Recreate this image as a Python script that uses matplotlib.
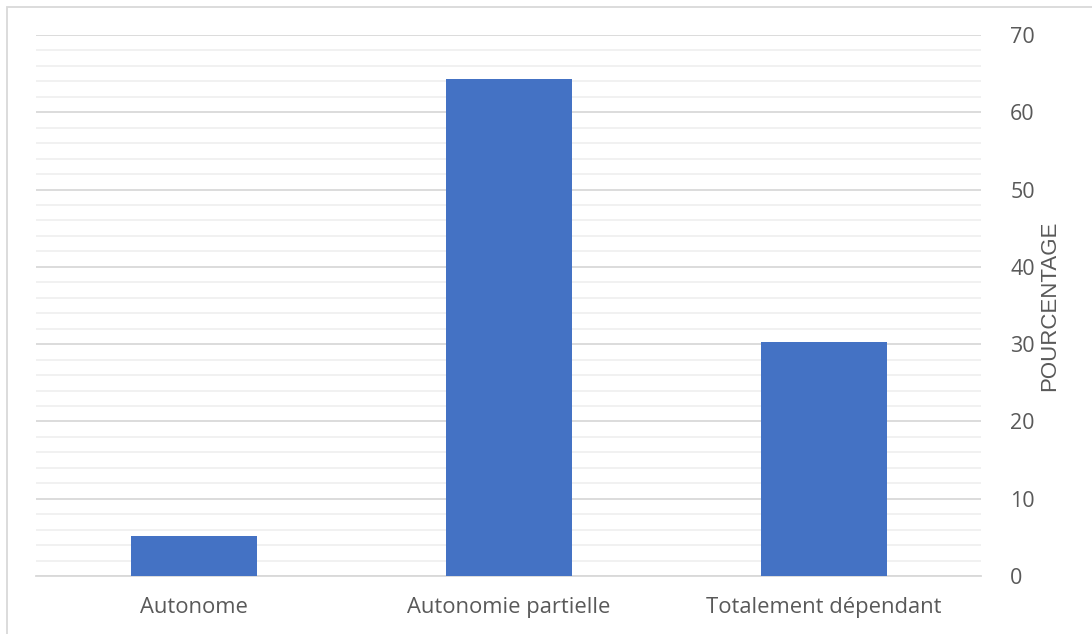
import matplotlib
matplotlib.use("Agg")
import matplotlib.pyplot as plt
from matplotlib.patches import Rectangle
from matplotlib.ticker import MultipleLocator

categories = ["Autonome", "Autonomie partielle", "Totalement dépendant"]
values = [5.2, 64.3, 30.3]
y_label = "POURCENTAGE"

plt.rcParams["font.family"] = ["Open Sans", "DejaVu Sans"]

W, H = 1092, 634
fig = plt.figure(figsize=(W / 100, H / 100), dpi=100)
fig.patch.set_facecolor("white")

# outer chart frame
fig.patches.append(Rectangle((6.5 / W, -0.1), 1.2, 1 - 6.5 / H + 0.1,
                             transform=fig.transFigure, fill=False,
                             edgecolor="#d9d9d9", linewidth=1.3, zorder=0))

ax = fig.add_axes([36 / W, (H - 576) / H, (981 - 36) / W, (576 - 35) / H])
x = range(len(categories))
ax.bar(x, values, width=0.40, color="#4472c4", zorder=3)

ax.set_xlim(-0.5, len(categories) - 0.5)
ax.set_ylim(0, 70)
ax.yaxis.set_major_locator(MultipleLocator(10))
ax.yaxis.set_minor_locator(MultipleLocator(2))
ax.yaxis.tick_right()
ax.yaxis.set_label_position("right")

ax.grid(axis="y", which="major", color="#d9d9d9", linewidth=1.3, zorder=0)
ax.grid(axis="y", which="minor", color="#f0f0f0", linewidth=1.3, zorder=0)

for s in ["left", "right", "top"]:
    ax.spines[s].set_visible(False)
ax.spines["bottom"].set_color("#d9d9d9")
ax.spines["bottom"].set_linewidth(1.3)

ax.set_xticks(list(x))
ax.set_xticklabels(categories)
ax.tick_params(axis="x", length=0, pad=15, labelsize=15.8, labelcolor="#595959")
ax.tick_params(axis="y", which="both", length=0, pad=21, labelsize=15.5,
               labelcolor="#595959")
for t in ax.get_yticklabels():
    t.set_horizontalalignment("left")

ax.set_ylabel(y_label, fontsize=16, color="#595959", labelpad=3, rotation=90,
              family=["Liberation Sans", "DejaVu Sans"])

fig.savefig("out.png", dpi=100, facecolor="white")
